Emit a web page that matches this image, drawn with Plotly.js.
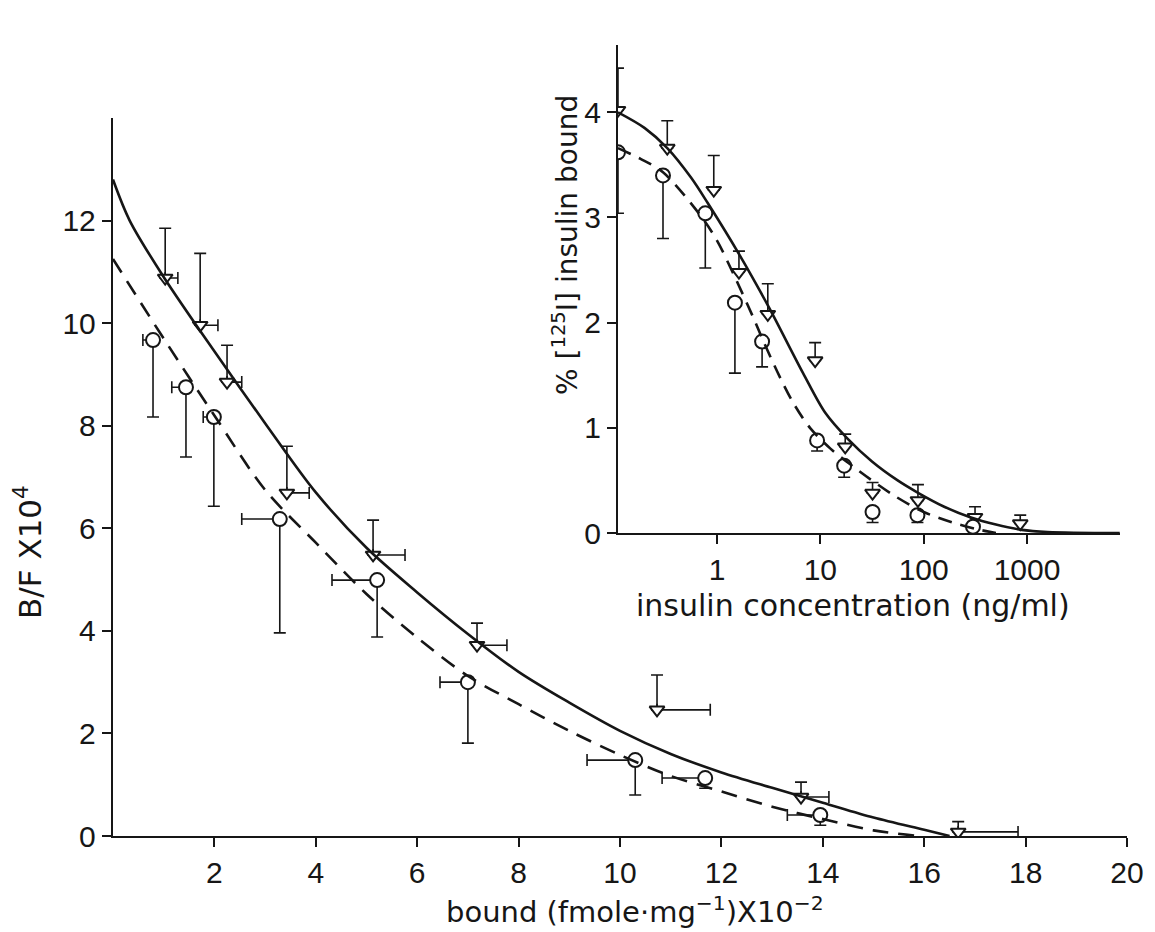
<!DOCTYPE html>
<html><head><meta charset="utf-8">
<script src="https://cdn.plot.ly/plotly-3.0.1.min.js"></script>
<style>html,body{margin:0;padding:0;background:#fff;} #chart{width:1155px;height:932px;}</style>
</head><body><div id="chart"></div>
<script>
// ---------- Main Scatchard plot (bound x10^-2 vs B/F x10^4) ----------
// triangles (solid curve series)
const mainTriX      = [1.03, 1.72, 2.25, 3.43, 5.13, 7.18, 10.73, 13.57, 16.67];
const mainTriY      = [10.88, 9.96, 8.85, 6.69, 5.48, 3.72, 2.46, 0.76, 0.08];
const mainTriErrUp  = [0.97, 1.40, 0.72, 0.91, 0.68, 0.43, 0.68, 0.29, 0.20];
const mainTriErrRt  = [0.25, 0.35, 0.29, 0.44, 0.63, 0.59, 1.05, 0.55, 1.18];
// circles (dashed curve series)
const mainCirX      = [0.79, 1.44, 1.99, 3.29, 5.21, 7.00, 10.30, 11.68, 13.95];
const mainCirY      = [9.67, 8.75, 8.17, 6.18, 4.99, 3.00, 1.48, 1.13, 0.41];
const mainCirErrDn  = [1.50, 1.36, 1.74, 2.22, 1.11, 1.19, 0.68, 0.20, 0.20];
const mainCirErrLt  = [0.20, 0.28, 0.21, 0.75, 0.89, 0.55, 0.95, 0.85, 0.65];
// fitted curves
const mainSolidX = [0, 0.33, 1, 2, 3, 4, 5, 6, 7, 8, 9, 10, 11, 12, 13, 14, 15, 16, 16.5];
const mainSolidY = [12.8, 12.0, 10.9, 9.45, 8.05, 6.7, 5.62, 4.75, 3.94, 3.2, 2.6, 2.05, 1.6, 1.24, 0.94, 0.65, 0.36, 0.12, 0];
const mainDashX  = [0, 1, 2, 3, 4, 5, 6, 7, 8, 9, 10, 11, 12, 13, 14, 15, 15.9];
const mainDashY  = [11.25, 9.7, 8.2, 6.75, 5.72, 4.72, 3.87, 3.12, 2.57, 2.05, 1.58, 1.17, 0.87, 0.57, 0.33, 0.11, 0];
const mainXTicks = [2, 4, 6, 8, 10, 12, 14, 16, 18, 20];
const mainYTicks = [0, 2, 4, 6, 8, 10, 12];

// ---------- Inset: competition curve ----------
const insTriX     = [0.11, 0.33, 0.93, 1.63, 3.1, 8.9, 17.4, 32, 88, 314, 860];
const insTriY     = [4.02, 3.66, 3.26, 2.48, 2.08, 1.64, 0.82, 0.38, 0.31, 0.15, 0.09];
const insTriErrUp = [0.40, 0.26, 0.33, 0.20, 0.29, 0.17, 0.12, 0.10, 0.15, 0.10, 0.08];
const insCirX     = [0.11, 0.30, 0.77, 1.49, 2.73, 9.3, 17, 32, 87, 300];
const insCirY     = [3.62, 3.40, 3.04, 2.19, 1.82, 0.88, 0.64, 0.20, 0.17, 0.06];
const insCirErrDn = [0.58, 0.60, 0.52, 0.67, 0.24, 0.10, 0.11, 0.10, 0.07, 0.04];
const insSolidX = [0.11, 0.2, 0.33, 0.56, 0.81, 1.66, 3.16, 6.8, 11.2, 18.2, 31.6, 56, 89, 158, 282, 500, 890, 1580, 7900];
const insSolidY = [4.0, 3.85, 3.66, 3.38, 3.14, 2.64, 2.15, 1.52, 1.14, 0.9, 0.68, 0.5, 0.38, 0.25, 0.15, 0.08, 0.03, 0.01, 0];
const insDashX  = [0.11, 0.18, 0.30, 0.69, 1.0, 1.43, 2.24, 2.82, 4.07, 5.6, 7.94, 12.6, 20.9, 31.6, 55, 100, 190, 316, 500];
const insDashY  = [3.66, 3.56, 3.43, 3.02, 2.78, 2.47, 2.05, 1.82, 1.48, 1.22, 1.0, 0.8, 0.63, 0.5, 0.34, 0.2, 0.1, 0.04, 0];
const insXTicks = [1, 10, 100, 1000];
const insXTickText = ['1', '10', '100', '1000'];
const insYTicks = [0, 1, 2, 3, 4];

const INK = '#161616';
const TICKFONT = 'Liberation Sans, Arial, sans-serif';
const TITLEFONT = 'DejaVu Sans, Liberation Sans, sans-serif';
const zeros = a => a.map(() => 0);
const eb = (plus, minus) => ({type:'data', symmetric:false, array:plus, arrayminus:minus, width:6, thickness:1.6, color:INK});
const triMarker = {symbol:'triangle-down', size:13, color:'#fff', line:{color:INK, width:2}};
const cirMarker = {symbol:'circle', size:14, color:'#fff', line:{color:INK, width:2}};

const traces = [
  {x:mainTriX, y:mainTriY, mode:'markers', marker:triMarker,
   error_y:eb(mainTriErrUp, zeros(mainTriErrUp)), error_x:eb(mainTriErrRt, zeros(mainTriErrRt))},
  {x:mainCirX, y:mainCirY, mode:'markers', marker:cirMarker,
   error_y:eb(zeros(mainCirErrDn), mainCirErrDn), error_x:eb(zeros(mainCirErrLt), mainCirErrLt)},
  {x:mainSolidX, y:mainSolidY, mode:'lines', line:{color:INK, width:2.6, shape:'spline', smoothing:0.9}},
  {x:mainDashX, y:mainDashY, mode:'lines', line:{color:INK, width:2.6, dash:'16px,10px', shape:'spline', smoothing:0.9}},
  {x:insTriX, y:insTriY, xaxis:'x2', yaxis:'y2', mode:'markers', marker:triMarker,
   error_y:eb(insTriErrUp, zeros(insTriErrUp))},
  {x:insCirX, y:insCirY, xaxis:'x2', yaxis:'y2', mode:'markers', marker:cirMarker,
   error_y:eb(zeros(insCirErrDn), insCirErrDn)},
  {x:insSolidX, y:insSolidY, xaxis:'x2', yaxis:'y2', mode:'lines', line:{color:INK, width:2.6, shape:'spline', smoothing:0.9}},
  {x:insDashX, y:insDashY, xaxis:'x2', yaxis:'y2', mode:'lines', line:{color:INK, width:2.6, dash:'14px,9px', shape:'spline', smoothing:0.9}}
];

const axBase = {showline:true, linewidth:2.2, linecolor:INK, ticks:'outside', ticklen:9, tickwidth:2,
  tickcolor:INK, showgrid:false, zeroline:false, fixedrange:true, tickfont:{family:TICKFONT, size:30, color:INK}};

const layout = {
  width:1155, height:932, margin:{l:0, r:0, t:0, b:0}, showlegend:false,
  paper_bgcolor:'#ffffff', plot_bgcolor:'rgba(0,0,0,0)',
  font:{family:TITLEFONT, size:28, color:INK},
  xaxis:Object.assign({}, axBase, {domain:[0.0978, 0.9758], range:[0, 20], tickvals:mainXTicks, anchor:'y'}),
  yaxis:Object.assign({}, axBase, {domain:[0.103, 0.8734], range:[0, 14], tickvals:mainYTicks, anchor:'x'}),
  xaxis2:Object.assign({}, axBase, {domain:[0.5351, 0.9697], type:'log', range:[-0.958, 3.90],
    tickvals:insXTicks, ticktext:insXTickText, anchor:'y2'}),
  yaxis2:Object.assign({}, axBase, {domain:[0.4281, 0.9517], range:[0, 4.64], tickvals:insYTicks, anchor:'x2'}),
  annotations:[
    {text:'bound (fmole·mg<sup>−1</sup>)X10<sup>−2</sup>', xref:'paper', yref:'paper', x:635/1155, y:(932-910)/932,
     showarrow:false, xanchor:'center', yanchor:'middle', font:{family:TITLEFONT, size:29, color:INK}},
    {text:'insulin concentration (ng/ml)', xref:'paper', yref:'paper', x:853/1155, y:(932-605)/932,
     showarrow:false, xanchor:'center', yanchor:'middle', font:{family:TITLEFONT, size:30, color:INK}},
    {text:'B/F X10<sup>4</sup>', xref:'paper', yref:'paper', x:28/1155, y:(932-552)/932, textangle:-90,
     showarrow:false, xanchor:'center', yanchor:'middle', font:{family:TITLEFONT, size:31, color:INK}},
    {text:'% [<sup>125</sup>I] insulin bound', xref:'paper', yref:'paper', x:565/1155, y:(932-245)/932, textangle:-90,
     showarrow:false, xanchor:'center', yanchor:'middle', font:{family:TITLEFONT, size:28, color:INK}}
  ]
};

Plotly.newPlot('chart', traces, layout, {staticPlot:true, displayModeBar:false});
</script>
</body></html>
